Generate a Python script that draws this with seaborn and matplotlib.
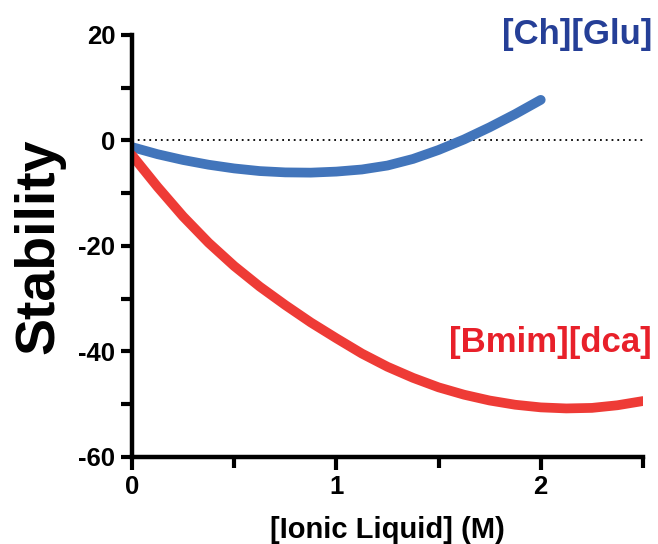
import matplotlib
matplotlib.use("Agg")
import matplotlib.pyplot as plt
import seaborn as sns
import pandas as pd

# Concentration of ionic liquid (M) and fitted stability for each salt
conc_glu = [0.0, 0.125, 0.25, 0.375, 0.5, 0.625, 0.75, 0.875, 1.0,
            1.125, 1.25, 1.375, 1.5, 1.625, 1.75, 1.875, 2.0]
stab_glu = [-1.25, -2.6, -3.7, -4.6, -5.3, -5.8, -6.05, -6.1, -5.9,
            -5.5, -4.75, -3.5, -1.8, 0.2, 2.5, 5.0, 7.7]

conc_dca = [0.0, 0.125, 0.25, 0.375, 0.5, 0.625, 0.75, 0.875, 1.0,
            1.125, 1.25, 1.375, 1.5, 1.625, 1.75, 1.875, 2.0,
            2.125, 2.25, 2.375, 2.5]
stab_dca = [-2.8, -8.8, -14.4, -19.4, -23.8, -27.7, -31.2, -34.5, -37.5,
            -40.4, -42.9, -45.0, -46.8, -48.2, -49.3, -50.1, -50.6,
            -50.8, -50.7, -50.2, -49.4]

series_names = ["[Ch][Glu]", "[Bmim][dca]"]
line_colors = ["#4275BB", "#EE3B36"]
label_colors = ["#253F97", "#E8202A"]

x_ticks = [0, 1, 2]
y_ticks = [20, 0, -20, -40, -60]

df = pd.concat([
    pd.DataFrame({"conc": conc_glu, "stab": stab_glu, "il": series_names[0]}),
    pd.DataFrame({"conc": conc_dca, "stab": stab_dca, "il": series_names[1]}),
])

sns.set_style("ticks")
plt.rcParams["font.family"] = ["Liberation Sans", "DejaVu Sans"]
plt.rcParams["font.weight"] = "bold"
plt.rcParams["axes.unicode_minus"] = False
plt.rcParams["text.color"] = "black"
plt.rcParams["axes.labelcolor"] = "black"
plt.rcParams["xtick.color"] = "black"
plt.rcParams["ytick.color"] = "black"

fig = plt.figure(figsize=(6.58, 5.44), dpi=100)
ax = fig.add_axes([0.2006, 0.160, 0.7765, 0.7757])

sns.lineplot(data=df, x="conc", y="stab", hue="il",
             palette=dict(zip(series_names, line_colors)),
             linewidth=7, legend=False, ax=ax, sort=False,
             solid_capstyle="round", solid_joinstyle="round")

ax.axhline(0, color="black", linestyle=(0, (1, 2.2)), linewidth=1.3, zorder=0)

ax.set_xlim(0, 2.5)
ax.set_ylim(-60, 20)
ax.set_xticks(x_ticks)
ax.set_xticks([0.5, 1.5, 2.5], minor=True)
ax.set_yticks(y_ticks)
ax.set_yticks([10, -10, -30, -50], minor=True)
ax.set_xticklabels([str(v) for v in x_ticks])
ax.set_yticklabels([str(v) for v in y_ticks])

for side in ("top", "right"):
    ax.spines[side].set_visible(False)
for side in ("left", "bottom"):
    ax.spines[side].set_linewidth(3.2)
    ax.spines[side].set_color("black")
ax.spines["left"].set_bounds(-60, 20)
ax.spines["bottom"].set_bounds(0, 2.5)

ax.tick_params(which="both", direction="out", length=8, width=3,
               colors="black", labelsize=18.5, pad=4)
ax.tick_params(axis="x", which="major", length=9)
for lab in ax.get_xticklabels() + ax.get_yticklabels():
    lab.set_fontweight("bold")
    lab.set_color("black")

ax.set_xlabel("[Ionic Liquid] (M)", fontsize=21, fontweight="bold",
              color="black", labelpad=12)
ax.set_ylabel("Stability", fontsize=40, fontweight="bold", color="black")
ax.yaxis.set_label_coords(-0.13, 0.5)

ax.text(2.545, 20.1, series_names[0], color=label_colors[0], fontsize=25,
        fontweight="bold", ha="right", va="center", clip_on=False)
ax.text(2.545, -38.3, series_names[1], color=label_colors[1], fontsize=25,
        fontweight="bold", ha="right", va="center", clip_on=False)

fig.savefig("out.png", dpi=100)
